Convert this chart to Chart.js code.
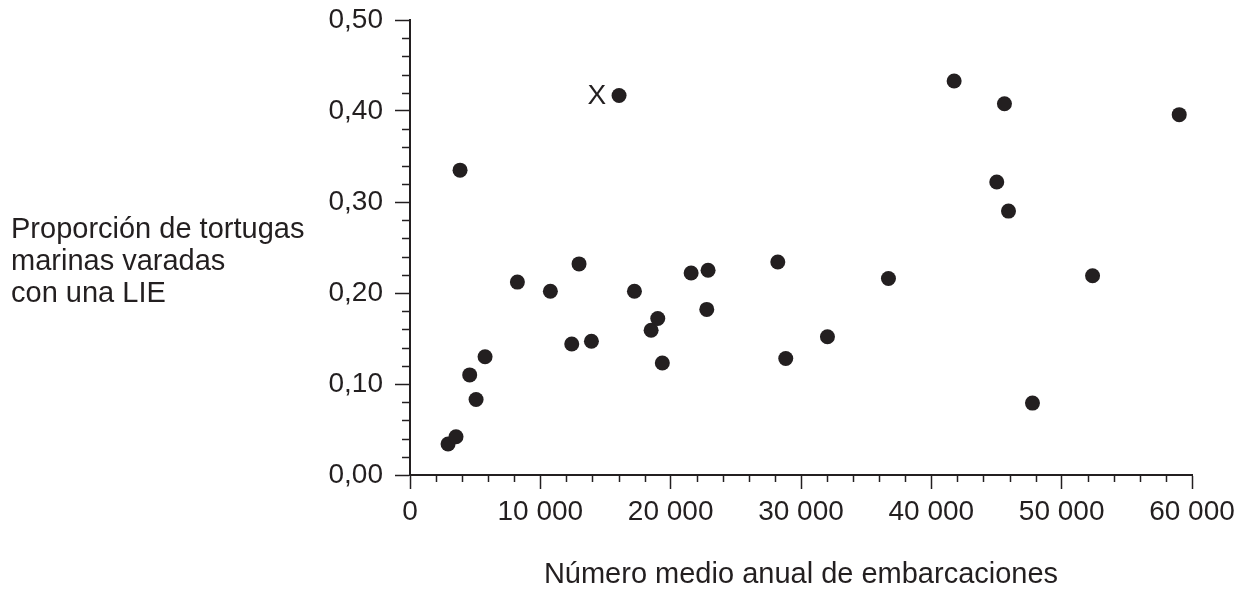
<!DOCTYPE html>
<html>
<head>
<meta charset="utf-8">
<script src="https://cdn.jsdelivr.net/npm/chart.js@4/dist/chart.umd.min.js"></script>
<style>
  body { margin: 0; background: #fff; }
  #wrap { width: 1246px; height: 592px; position: relative; }
</style>
</head>
<body>
<div id="wrap"><canvas id="myChart"></canvas></div>
<script>
// datos
var embarcaciones = [2920, 3530, 3840, 4580, 5070, 5760, 8240, 10770, 12410, 12970,
  13920, 16040, 17220, 18500, 19010, 19360, 21570, 22770, 22870, 28220,
  28830, 32030, 36710, 41750, 45020, 45610, 45920, 47760, 52370, 59020];
var proporcion = [0.034, 0.042, 0.335, 0.110, 0.083, 0.130, 0.212, 0.202, 0.144, 0.232,
  0.147, 0.417, 0.202, 0.159, 0.172, 0.123, 0.222, 0.182, 0.225, 0.234,
  0.128, 0.152, 0.216, 0.433, 0.322, 0.408, 0.290, 0.079, 0.219, 0.396];
var puntoMarcado = 11;          // el punto con la "X"
var textoMarca = 'X';
var xTicks = [0, 10000, 20000, 30000, 40000, 50000, 60000];
var yTicks = [0, 0.1, 0.2, 0.3, 0.4, 0.5];
var tituloX = 'Número medio anual de embarcaciones';
var tituloY = ['Proporción de tortugas', 'marinas varadas', 'con una LIE'];

var ink = '#231f20';
var fuente = '"Liberation Sans", Arial, sans-serif';

var puntos = embarcaciones.map(function (x, i) { return { x: x, y: proporcion[i] }; });

var extras = {
  id: 'extras',
  afterDraw: function (chart) {
    var c = chart.ctx, xs = chart.scales.x, ys = chart.scales.y;
    c.save();
    c.strokeStyle = ink;
    c.lineWidth = 1.5;
    // ticks menores
    for (var v = 2000; v < 60000; v += 2000) {
      if (v % 10000 === 0) continue;
      var px = Math.round(xs.getPixelForValue(v)) + 0.5;
      c.beginPath(); c.moveTo(px, ys.bottom); c.lineTo(px, ys.bottom + 7); c.stroke();
    }
    for (var k = 1; k < 25; k++) {
      if (k % 5 === 0) continue;
      var py = Math.round(ys.getPixelForValue(k * 0.02)) + 0.5;
      c.beginPath(); c.moveTo(xs.left - 8, py); c.lineTo(xs.left, py); c.stroke();
    }
    // titulo del eje y
    c.fillStyle = ink;
    c.font = '29px ' + fuente;
    c.textAlign = 'left';
    c.textBaseline = 'alphabetic';
    tituloY.forEach(function (t, i) { c.fillText(t, 11, 238 + i * 32); });
    // marca X
    c.font = '28px ' + fuente;
    c.textAlign = 'right';
    c.textBaseline = 'middle';
    c.fillText(textoMarca, xs.getPixelForValue(embarcaciones[puntoMarcado]) - 13,
      ys.getPixelForValue(proporcion[puntoMarcado]) + 1);
    c.restore();
  }
};

var ctx = document.getElementById('myChart').getContext('2d');
var myChart = new Chart(ctx, {
  type: 'scatter',
  data: {
    datasets: [{
      data: puntos,
      backgroundColor: ink,
      borderColor: ink,
      borderWidth: 0,
      pointRadius: 7.5,
      pointHoverRadius: 7.5
    }]
  },
  options: {
    responsive: true,
    maintainAspectRatio: false,
    animation: false,
    layout: { padding: { top: 20, right: 54, left: 0, bottom: 0 } },
    plugins: { legend: { display: false }, tooltip: { enabled: false } },
    scales: {
      x: {
        type: 'linear', min: 0, max: 60000,
        afterBuildTicks: function (s) { s.ticks = xTicks.map(function (v) { return { value: v }; }); },
        afterFit: function (s) { s.height = 117; },
        ticks: {
          color: ink, padding: 6, maxRotation: 0,
          font: { family: fuente, size: 28 },
          callback: function (v) { return v === 0 ? '0' : (v / 1000) + ' 000'; }
        },
        grid: { drawOnChartArea: false, tickLength: 14, tickColor: ink, tickWidth: 1.5 },
        border: { color: ink, width: 2 },
        title: {
          display: true, text: tituloX, color: ink,
          font: { family: fuente, size: 29 }, padding: { top: 0, bottom: 0 }
        }
      },
      y: {
        type: 'linear', min: 0, max: 0.5,
        afterBuildTicks: function (s) { s.ticks = yTicks.map(function (v) { return { value: v }; }); },
        afterFit: function (s) { s.width = 410; s.paddingTop = 0; s.paddingBottom = 0; },
        ticks: {
          color: ink, padding: 12,
          font: { family: fuente, size: 28 },
          callback: function (v) { return v.toFixed(2).replace('.', ','); }
        },
        grid: { drawOnChartArea: false, tickLength: 15, tickColor: ink, tickWidth: 1.5 },
        border: { color: ink, width: 2 }
      }
    }
  },
  plugins: [extras]
});
</script>
</body>
</html>
